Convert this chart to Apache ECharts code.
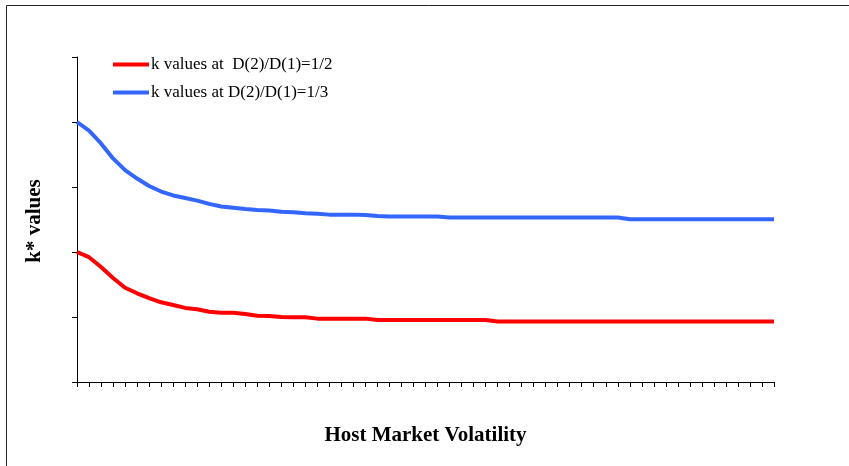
<!DOCTYPE html>
<html>
<head>
<meta charset="utf-8">
<script src="https://cdn.jsdelivr.net/npm/echarts@6/dist/echarts.min.js"></script>
<style>html,body{margin:0;padding:0;background:#fff}#c{width:849px;height:466px}</style>
</head>
<body>
<div id="c"></div>
<script>
var categories = [];
for (var i = 1; i <= 59; i++) categories.push(String(i));

var seriesNames = ['k values at  D(2)/D(1)=1/2', 'k values at D(2)/D(1)=1/3'];

var redValues = [
  2.0, 1.92, 1.77, 1.60, 1.45, 1.365, 1.29, 1.226, 1.185, 1.14,
  1.12, 1.08, 1.066, 1.066, 1.046, 1.02, 1.015, 1.0, 0.995, 0.995,
  0.975, 0.975, 0.975, 0.975, 0.975, 0.955, 0.955, 0.955, 0.955, 0.955,
  0.955, 0.955, 0.955, 0.955, 0.955, 0.93, 0.93, 0.93, 0.93, 0.93,
  0.93, 0.93, 0.93, 0.93, 0.93, 0.93, 0.93, 0.93, 0.93, 0.93,
  0.93, 0.93, 0.93, 0.93, 0.93, 0.93, 0.93, 0.93, 0.93
];

var blueValues = [
  4.0, 3.866, 3.67, 3.44, 3.26, 3.13, 3.015, 2.93, 2.87, 2.83,
  2.79, 2.74, 2.70, 2.68, 2.66, 2.646, 2.64, 2.62, 2.61, 2.595,
  2.59, 2.575, 2.575, 2.575, 2.57, 2.555, 2.545, 2.545, 2.545, 2.545,
  2.545, 2.53, 2.53, 2.53, 2.53, 2.53, 2.53, 2.53, 2.53, 2.53,
  2.53, 2.53, 2.53, 2.53, 2.53, 2.53, 2.505, 2.505, 2.505, 2.505,
  2.505, 2.505, 2.505, 2.505, 2.505, 2.505, 2.505, 2.505, 2.505
];

var chart = echarts.init(document.getElementById('c'), null, {renderer: 'canvas'});
var serif = '"Liberation Serif", "Times New Roman", serif';
chart.setOption({
  animation: false,
  backgroundColor: '#fff',
  graphic: [{
    type: 'rect',
    shape: {x: 6.5, y: 5.5, width: 900, height: 500},
    style: {fill: 'none', stroke: '#222', lineWidth: 1},
    silent: true
  }, {
    type: 'text',
    x: 35,
    y: 221,
    rotation: Math.PI / 2,
    style: {text: 'k* values', font: 'bold 21px ' + serif, fill: '#000', textAlign: 'center', textVerticalAlign: 'middle'},
    silent: true
  }],
  grid: {left: 77, right: 75, top: 57, bottom: 84, containLabel: false},
  legend: {
    orient: 'vertical',
    left: 108,
    top: 51,
    itemGap: 11,
    itemWidth: 36,
    itemHeight: 4,
    icon: 'rect',
    textStyle: {fontFamily: serif, fontSize: 17, color: '#000', padding: [0, 0, 0, -3], lineHeight: 17},
    data: seriesNames
  },
  xAxis: {
    type: 'category',
    data: categories,
    boundaryGap: false,
    name: 'Host Market Volatility',
    nameLocation: 'middle',
    nameGap: 43,
    nameTextStyle: {fontFamily: serif, fontSize: 21, fontWeight: 'bold', color: '#000'},
    axisLine: {lineStyle: {color: '#000', width: 1}},
    axisTick: {show: true, interval: 0, length: 5, lineStyle: {color: '#000'}},
    axisLabel: {show: false},
    splitLine: {show: false}
  },
  yAxis: {
    type: 'value',
    min: 0,
    max: 5,
    interval: 1,
    axisLine: {show: true, lineStyle: {color: '#000', width: 1}},
    axisTick: {show: true, length: 5, lineStyle: {color: '#000'}},
    axisLabel: {show: false},
    splitLine: {show: false}
  },
  series: [{
    name: seriesNames[0],
    type: 'line',
    data: redValues,
    symbol: 'none',
    lineStyle: {color: '#FF0000', width: 4},
    itemStyle: {color: '#FF0000'}
  }, {
    name: seriesNames[1],
    type: 'line',
    data: blueValues,
    symbol: 'none',
    lineStyle: {color: '#3366FF', width: 4},
    itemStyle: {color: '#3366FF'}
  }]
});
</script>
</body>
</html>
